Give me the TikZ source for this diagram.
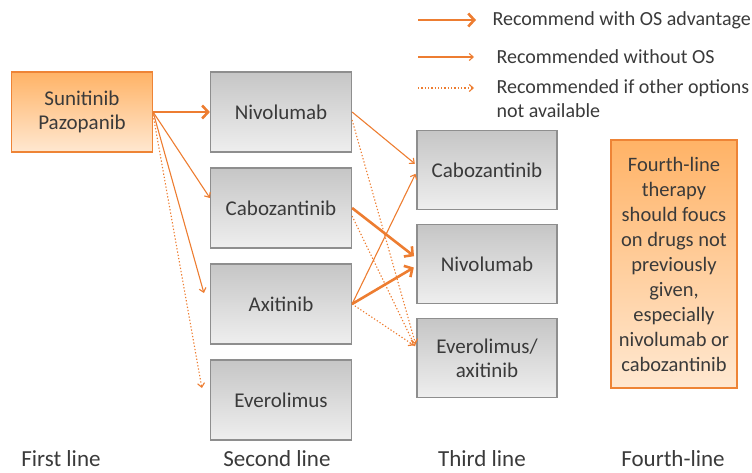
\documentclass[tikz,border=0pt]{standalone}
\usepackage{fontspec}
\setmainfont{Carlito}
\usetikzlibrary{positioning,arrows.meta}
\definecolor{linkorange}{HTML}{ED7D31}
\definecolor{boxedge}{HTML}{8E8E8E}
\definecolor{orangeedge}{HTML}{EE8436}
\definecolor{textgray}{HTML}{3A3A3A}
\tikzset{
  drugbox/.style={draw=boxedge, line width=1.2pt, top color=gray!45, bottom color=gray!13,
    minimum width=141pt, minimum height=80pt, text=textgray, align=center,
    font=\fontsize{21}{24}\selectfont},
  firstbox/.style={drugbox, draw=orangeedge, top color=orange!60!white, bottom color=orange!18!white},
  notebox/.style={firstbox, minimum width=126pt, minimum height=248pt, inner sep=1pt,
    font=\fontsize{20.5}{25}\selectfont},
  legtext/.style={text=textgray, align=left, font=\fontsize{20}{24}\selectfont},
  colcap/.style={text=textgray, font=\fontsize{23}{28}\selectfont},
  oslink/.style={->, >={Straight Barb[length=6pt,width=13pt]}, line width=2.6pt, draw=linkorange},
  nooslink/.style={->, >={Straight Barb[length=4pt,width=7pt]}, line width=1.1pt, draw=linkorange},
  optlink/.style={nooslink, dash pattern=on 1.3pt off 2pt}
}
\begin{document}
\begin{tikzpicture}[x=1pt,y=-1pt]
\useasboundingbox (0,0) rectangle (752,472);
% legend
\coordinate (osa) at (418,20);
\coordinate (osb) at (476,20);
\coordinate (noosa) at (418,57);
\coordinate (noosb) at (474,57);
\coordinate (opta) at (418,88);
\coordinate (optb) at (474,88);
\draw[oslink] (osa) -- (osb);
\draw[nooslink] (noosa) -- (noosb);
\draw[optlink] (opta) -- (optb);
\node (oslabel) [legtext, anchor=west] at (489,20) {Recommend with OS advantage};
\node (nooslabel) [legtext, anchor=west] at (493,57) {Recommended without OS};
\node (optlabel) [legtext, anchor=west] at (493,99) {Recommended if other options\\not available};
% boxes
\node (firstl) [firstbox] at (82,112) {Sunitinib\\Pazopanib};
\node (nivotwo) [drugbox, node distance=199pt, right of=firstl] {Nivolumab};
\node (cabotwo) [drugbox, node distance=96pt, below of=nivotwo] {Cabozantinib};
\node (axitwo) [drugbox, node distance=96pt, below of=cabotwo] {Axitinib};
\node (evertwo) [drugbox, node distance=96pt, below of=axitwo] {Everolimus};
\node (cabothree) [drugbox, minimum width=140pt, minimum height=79pt] at (487,170) {Cabozantinib};
\node (nivothree) [drugbox, minimum width=140pt, minimum height=79pt, node distance=94pt, below of=cabothree] {Nivolumab};
\node (everthree) [drugbox, minimum width=140pt, minimum height=79pt, node distance=94pt, below of=nivothree] {Everolimus/\\axitinib};
\node (fourth) [notebox, node distance=187pt, right of=nivothree] {Fourth-line\\therapy\\should foucs\\on drugs not\\previously\\given,\\especially\\nivolumab or\\cabozantinib};
% first to second line
\draw[oslink] (firstl.east) -- (nivotwo.west);
\draw[nooslink] (firstl.east) -- ([yshift=10pt]cabotwo.west);
\draw[nooslink] (firstl.east) -- ([xshift=-6pt,yshift=11pt]axitwo.west);
\draw[optlink] ([yshift=-3pt]firstl.east) -- ([xshift=-8pt,yshift=12pt]evertwo.west);
% second to third line
\draw[nooslink, shorten >=2pt] (nivotwo.east) -- ([yshift=5pt]cabothree.west);
\draw[optlink, shorten >=3pt] ([yshift=-8pt]nivotwo.east) -- ([yshift=11pt]everthree.west);
\draw[oslink, shorten >=3pt] (cabotwo.east) -- ([yshift=6pt]nivothree.west);
\draw[optlink, shorten >=3pt] ([yshift=-8pt]cabotwo.east) -- ([yshift=9pt]everthree.west);
\draw[oslink, shorten >=3pt] (axitwo.east) -- ([yshift=-2pt]nivothree.west);
\draw[nooslink, shorten >=2pt] (axitwo.east) -- ([yshift=-2pt]cabothree.west);
\draw[optlink, shorten >=3pt] (axitwo.east) -- ([yshift=11pt]everthree.west);
% column captions
\node (firstcap) [colcap, anchor=base] at (61,466) {First line};
\node (secondcap) [colcap, anchor=base] at (277,466) {Second line};
\node (thirdcap) [colcap, anchor=base] at (482,466) {Third line};
\node (fourthcap) [colcap, anchor=base] at (673,466) {Fourth-line};
\end{tikzpicture}
\end{document}
